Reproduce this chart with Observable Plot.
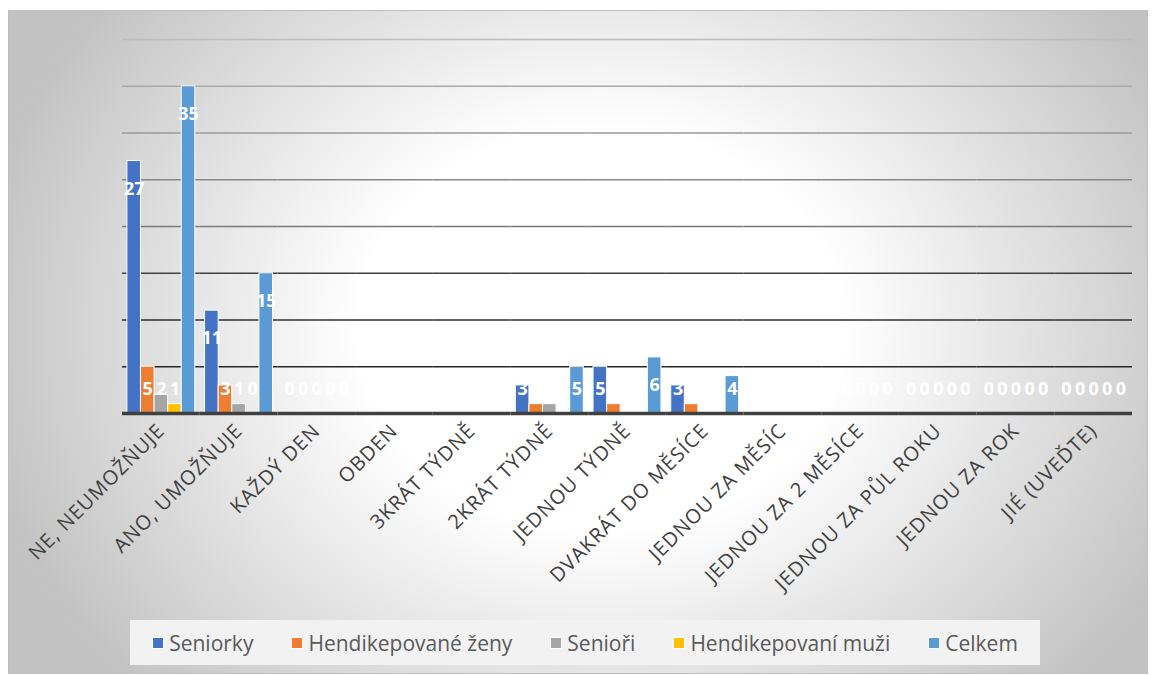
<!DOCTYPE html>
<html>
<head>
<meta charset="utf-8">
<script src="https://cdn.jsdelivr.net/npm/d3@7"></script>
<script src="https://cdn.jsdelivr.net/npm/@observablehq/plot@0.6"></script>
<style>
  html, body { margin: 0; padding: 0; background: #ffffff; }
  #wrap { position: relative; width: 1155px; height: 675px; overflow: hidden; }
  #frame { position: absolute; left: 8px; top: 10px; width: 1138px; height: 662px;
    border: 1px solid #bfbfbf;
    background: radial-gradient(ellipse 56% 80% at 52% 48%, #ffffff 0%, #ffffff 38%, #c2c2c2 100%); }
  #chart { position: absolute; left: 0; top: 0; }
  #chart [aria-label="fx-axis tick label"] text { letter-spacing: 1px; }
  #legend { position: absolute; left: 130px; top: 620px; width: 910px; height: 45px;
    background: #f2f2f2; display: flex; align-items: center; justify-content: center; gap: 38px;
    font-family: "Open Sans", sans-serif; font-size: 21px; color: #595959; }
  #legend .item { display: flex; align-items: center; gap: 5px; white-space: nowrap; }
  #legend .sw { width: 10px; height: 10px; border: 1px solid #fff; }
</style>
</head>
<body>
<div id="wrap">
  <div id="frame"></div>
  <div id="chart"></div>
  <div id="legend"></div>
</div>
<script>
const categories = [
  "NE, NEUMOŽŇUJE", "ANO, UMOŽŇUJE", "KAŽDÝ DEN", "OBDEN", "3KRÁT TÝDNĚ", "2KRÁT TÝDNĚ",
  "JEDNOU TÝDNĚ", "DVAKRÁT DO MĚSÍCE", "JEDNOU ZA MĚSÍC", "JEDNOU ZA 2 MĚSÍCE",
  "JEDNOU ZA PŮL ROKU", "JEDNOU ZA ROK", "JIÉ (UVEĎTE)"
];
const seriesNames = ["Seniorky", "Hendikepované ženy", "Senioři", "Hendikepovaní muži", "Celkem"];
const seniorky  = [27, 11, 0, 0, 0, 3, 5, 3, 0, 0, 0, 0, 0];
const hendZeny  = [ 5,  3, 0, 0, 0, 1, 1, 1, 0, 0, 0, 0, 0];
const seniori   = [ 2,  1, 0, 0, 0, 1, 0, 0, 0, 0, 0, 0, 0];
const hendMuzi  = [ 1,  0, 0, 0, 0, 0, 0, 0, 0, 0, 0, 0, 0];
const celkem    = [35, 15, 0, 0, 0, 5, 6, 4, 0, 0, 0, 0, 0];
const gridValues = [5, 10, 15, 20, 25, 30, 35, 40];

const seriesColors = ["#4472C4", "#ED7D31", "#A5A5A5", "#FFC000", "#5B9BD5"];
const gridColors = ["#262626", "#2e2e2e", "#404040", "#7a7a7a", "#888888", "#9a9a9a", "#aaaaaa", "#bdbdbd"];

const valuesBySeries = [seniorky, hendZeny, seniori, hendMuzi, celkem];
const data = categories.flatMap((c, i) =>
  seriesNames.map((s, j) => ({cat: c, series: s, value: valuesBySeries[j][i]})));

const chart = Plot.plot({
  width: 1155,
  height: 615,
  marginLeft: 122,
  marginRight: 23,
  marginTop: 39,
  marginBottom: 202,
  style: {background: "transparent", fontFamily: "Open Sans, sans-serif", fontSize: "18px", overflow: "visible"},
  fx: {domain: categories, padding: 0, round: false, label: null},
  x: {domain: seriesNames, axis: null, paddingInner: 0, paddingOuter: 0.36, round: false},
  y: {domain: [0, 40], axis: null},
  color: {domain: seriesNames, range: seriesColors},
  marks: [
    ...gridValues.map((v, i) => Plot.ruleY([v], {stroke: gridColors[i], strokeWidth: 1.5})),
    Plot.barY(data, {fx: "cat", x: "series", y: "value", fill: "series", stroke: "white", strokeWidth: 1}),
    Plot.ruleY([0], {stroke: "#404040", strokeWidth: 3.5}),
    Plot.text(data, {fx: "cat", x: "series", y: d => Math.max(d.value - 3, 2.57),
      text: d => String(d.value), fill: "white", fontWeight: "bold", fontSize: 18}),
    Plot.axisFx({anchor: "bottom", tickRotate: -45, tickSize: 0, tickPadding: 14, label: null,
      fill: "#404040", fontSize: 20})
  ]
});
document.getElementById("chart").appendChild(chart);

const legend = document.getElementById("legend");
seriesNames.forEach((s, i) => {
  const item = document.createElement("div");
  item.className = "item";
  const sw = document.createElement("span");
  sw.className = "sw";
  sw.style.background = seriesColors[i];
  const t = document.createElement("span");
  t.textContent = s;
  item.appendChild(sw);
  item.appendChild(t);
  legend.appendChild(item);
});
</script>
</body>
</html>
